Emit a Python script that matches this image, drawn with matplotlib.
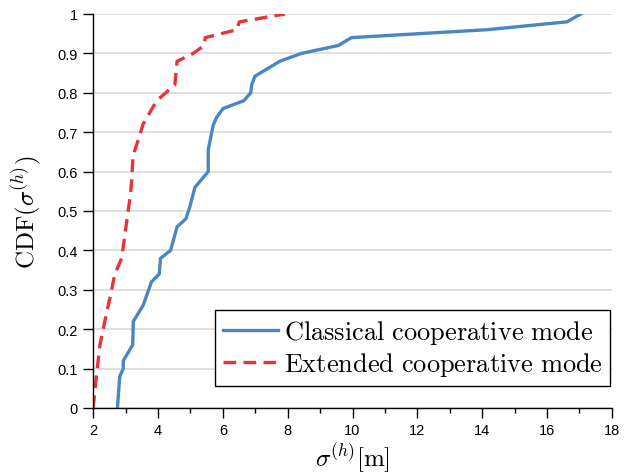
import numpy as np
import matplotlib
matplotlib.use("Agg")
import matplotlib.pyplot as plt
from matplotlib.ticker import MultipleLocator

plt.rcParams['mathtext.fontset'] = 'cm'
plt.rcParams['font.family'] = ['Liberation Sans', 'DejaVu Sans']

# classical cooperative mode
classical_x = [2.75, 2.82, 2.93, 2.93, 3.22, 3.24, 3.54, 3.80, 4.04, 4.08,
               4.39, 4.59, 4.86, 4.98, 5.14, 5.55, 5.55, 5.70, 5.81, 6.01,
               6.65, 6.86, 6.89, 6.99, 7.76, 8.43, 9.56, 9.97, 14.14, 16.61,
               17.04]
classical_y = [0.0, 0.08, 0.10, 0.12, 0.16, 0.22, 0.26, 0.32, 0.34, 0.38,
               0.40, 0.46, 0.48, 0.51, 0.56, 0.60, 0.655, 0.717, 0.738, 0.76,
               0.78, 0.80, 0.82, 0.842, 0.88, 0.90, 0.92, 0.94, 0.96, 0.98,
               1.0]

# extended cooperative mode
extended_x = [2.0, 2.05, 2.1, 2.21, 2.36, 2.52, 2.67, 2.88, 2.98, 3.08,
              3.15, 3.19, 3.23, 3.39, 3.54, 3.96, 4.52, 4.59, 5.09, 5.42,
              5.46, 6.43, 6.51, 7.92]
extended_y = [0.0, 0.04, 0.08, 0.16, 0.22, 0.28, 0.34, 0.38, 0.44, 0.50,
              0.54, 0.58, 0.64, 0.68, 0.72, 0.78, 0.82, 0.88, 0.90, 0.92,
              0.94, 0.96, 0.98, 1.0]

x_ticks = [2, 4, 6, 8, 10, 12, 14, 16, 18]
y_ticks = [0, 0.1, 0.2, 0.3, 0.4, 0.5, 0.6, 0.7, 0.8, 0.9, 1]
y_labels = ['0', '0.1', '0.2', '0.3', '0.4', '0.5', '0.6', '0.7', '0.8', '0.9', '1']

fig = plt.figure(figsize=(6.25, 4.77), dpi=100)
ax = fig.add_axes([0.149, 0.1426, 0.830, 0.826])

ax.plot(classical_x, classical_y, '-', color='#4a87c1', lw=2.4,
        label=r'$\mathrm{Classical\ cooperative\ mode}$')
ax.plot(extended_x, extended_y, '--', color='#e8333a', lw=2.4,
        dashes=(3.8, 2.2), label=r'$\mathrm{Extended\ cooperative\ mode}$')

ax.set_xlim(2, 18)
ax.set_ylim(0, 1)
ax.set_xticks(x_ticks)
ax.xaxis.set_minor_locator(MultipleLocator(1))
ax.set_yticks(y_ticks)
ax.set_yticklabels(y_labels)

# only horizontal grid, no box
ax.yaxis.grid(True, color='#dddddd', lw=1.3)
ax.set_axisbelow(True)
for s in ['top', 'right']:
    ax.spines[s].set_visible(False)
for s in ['left', 'bottom']:
    ax.spines[s].set_linewidth(1.0)
ax.tick_params(which='major', direction='out', length=7.5, width=1.0,
               labelsize=10.5)
ax.tick_params(which='minor', direction='out', length=3.6, width=1.0)

ax.set_xlabel(r'$\sigma^{(h)}[\mathrm{m}]$', fontsize=18, labelpad=2)
ax.set_ylabel(r'$\mathrm{CDF}(\sigma^{(h)})$', fontsize=18, labelpad=10)

leg = ax.legend(loc='upper left', bbox_to_anchor=(215/625, 1-311/477),
                bbox_transform=fig.transFigure, borderaxespad=0,
                fontsize=19, handlelength=2.1, handletextpad=0.2,
                borderpad=0.3, labelspacing=0.15, fancybox=False,
                framealpha=1, edgecolor='black')
leg.get_frame().set_linewidth(1.0)

fig.savefig('out.png', dpi=100)
